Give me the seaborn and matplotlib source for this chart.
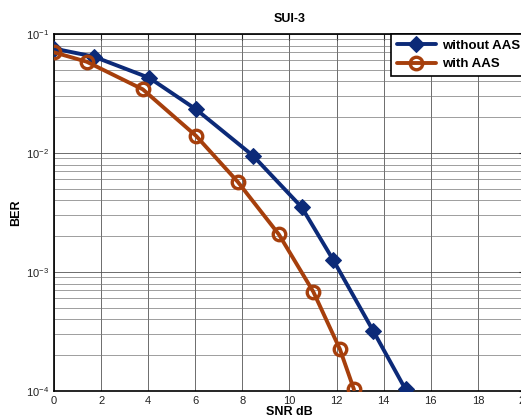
import numpy as np
import pandas as pd
import matplotlib
matplotlib.use('Agg')
import matplotlib.pyplot as plt
from matplotlib.ticker import LogLocator, FixedLocator, NullFormatter
import seaborn as sns

# values
snr_without = [0.0, 1.7, 4.05, 6.03, 8.45, 10.52, 11.86, 13.56, 14.93]
ber_without = [0.0755, 0.0645, 0.0428, 0.0233, 0.0095, 0.0035, 0.00126, 0.000319, 0.000103]
snr_with = [0.0, 1.39, 3.77, 6.03, 7.8, 9.55, 11.01, 12.14, 12.74]
ber_with = [0.0702, 0.0585, 0.0343, 0.01396, 0.00574, 0.00207, 0.000684, 0.000225, 0.000103]
x_ticks = list(range(0, 21, 2))

sns.set_style('white')
plt.rcParams['font.family'] = ['Liberation Sans', 'DejaVu Sans']
plt.rcParams['mathtext.fontset'] = 'custom'
plt.rcParams['mathtext.rm'] = 'Liberation Sans'
plt.rcParams['text.color'] = 'black'
plt.rcParams['axes.labelcolor'] = 'black'

blue = '#0c2a78'
orange = '#a63f0c'

fig = plt.figure(figsize=(5.21, 4.19), dpi=100)
ax = fig.add_axes([0.1036, 0.0668, 0.904, 0.852])

df_a = pd.DataFrame({'snr': snr_without, 'ber': ber_without})
df_b = pd.DataFrame({'snr': snr_with, 'ber': ber_with})

sns.lineplot(data=df_a, x='snr', y='ber', ax=ax, color=blue, lw=2.8,
             marker='D', markersize=8, markerfacecolor=blue, markeredgecolor=blue,
             label='without AAS', zorder=4)
sns.lineplot(data=df_b, x='snr', y='ber', ax=ax, color=orange, lw=2.8,
             marker='o', markersize=9, markerfacecolor='none', markeredgecolor=orange,
             markeredgewidth=2.4, label='with AAS', zorder=4)

ax.set_yscale('log')
ax.set_xlim(0, 20)
ax.set_ylim(1e-4, 1e-1)
ax.xaxis.set_major_locator(FixedLocator(x_ticks))
ax.yaxis.set_major_locator(LogLocator(base=10, numticks=10))
ax.yaxis.set_minor_locator(LogLocator(base=10, subs=np.arange(2, 10), numticks=10))
ax.yaxis.set_minor_formatter(NullFormatter())

ax.grid(True, which='major', color='#555555', lw=0.6)
ax.grid(True, which='minor', axis='y', color='#777777', lw=0.5)
ax.set_axisbelow(True)

ax.tick_params(which='both', direction='in', top=True, right=True, labelsize=8, colors='#222222')
ax.tick_params(which='major', length=4)
ax.tick_params(which='minor', length=2)
for s in ax.spines.values():
    s.set_color('black')
    s.set_linewidth(1.2)

ax.set_title('SUI-3', fontsize=9, fontweight='bold', pad=9, color='black')
ax.set_xlabel('SNR dB', fontsize=9, fontweight='bold', labelpad=0)
ax.set_ylabel('BER', fontsize=9, fontweight='bold', labelpad=3)

leg = ax.legend(loc='upper right', borderaxespad=0, fancybox=False, framealpha=1,
                edgecolor='black', handlelength=3, handletextpad=0.4,
                prop={'weight': 'bold', 'size': 9.5})
leg.get_frame().set_linewidth(1.2)
for t in leg.get_texts():
    t.set_color('black')

fig.savefig('out.png', dpi=100)
